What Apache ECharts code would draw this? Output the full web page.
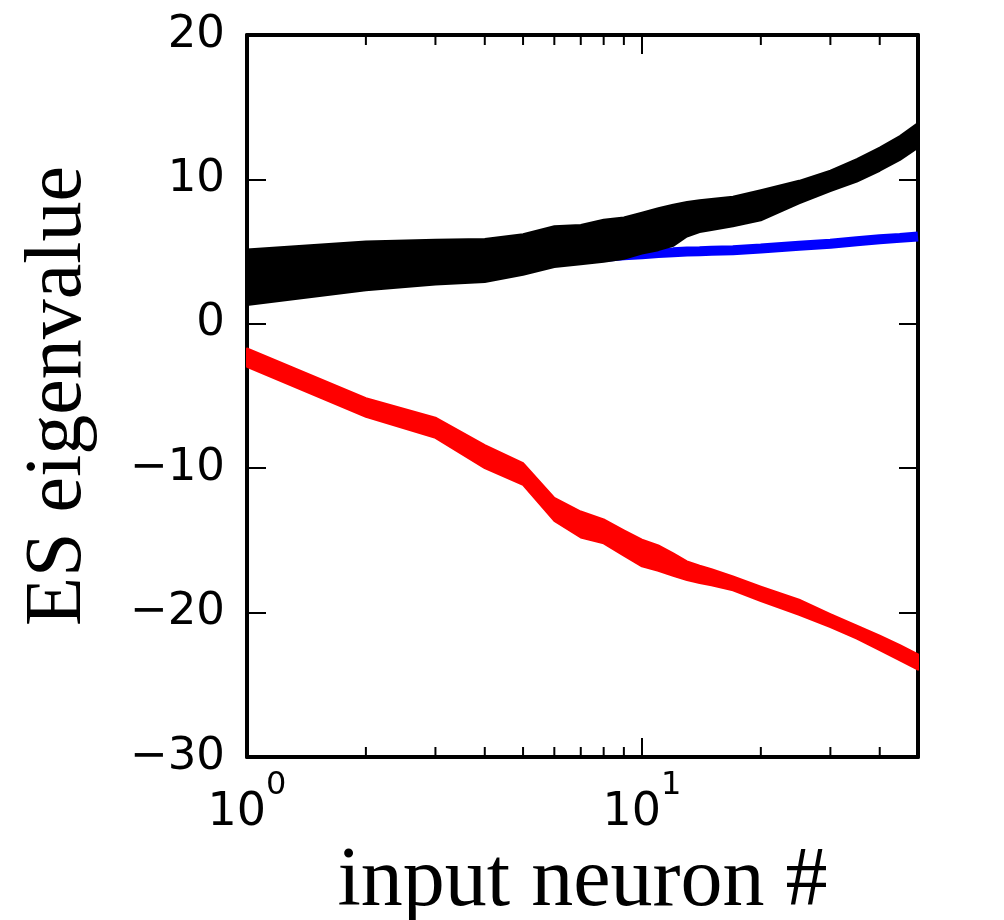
<!DOCTYPE html>
<html>
<head>
<meta charset="utf-8">
<script src="https://cdn.jsdelivr.net/npm/echarts@6/dist/echarts.min.js"></script>
<style>
  html, body { margin: 0; padding: 0; background: #fff; }
  #chart { width: 1004px; height: 920px; }
</style>
</head>
<body>
<div id="chart"></div>
<script>
// input neuron index (x, log axis)
const neurons = [1, 2, 3, 4, 5, 6, 7, 8, 9, 10, 11, 12, 13, 14, 15, 17, 20, 25, 30, 35, 40, 45, 50];
// black trials: upper and lower edge of the band
const blackTop = [5.15, 5.7, 5.82, 5.88, 6.2, 6.75, 6.85, 7.2, 7.36, 7.7, 8.0, 8.25, 8.44, 8.55, 8.65, 8.8, 9.25, 9.9, 10.6, 11.4, 12.2, 13.0, 13.9];
const blackBottom = [1.3, 2.33, 2.72, 2.9, 3.4, 3.94, 4.12, 4.3, 4.5, 4.86, 5.1, 5.4, 6.05, 6.35, 6.5, 6.75, 7.17, 8.35, 9.2, 9.85, 10.6, 11.35, 12.2];
// blue line
const blueLine = [3.2, 3.6, 3.9, 4.1, 4.25, 4.4, 4.52, 4.63, 4.75, 4.82, 4.9, 4.95, 5.0, 5.03, 5.06, 5.1, 5.21, 5.4, 5.55, 5.72, 5.85, 5.95, 6.05];
// red trials: upper and lower edge of the band
const redTop = [-1.71, -5.15, -6.5, -8.4, -9.65, -12.05, -13.0, -13.55, -14.3, -14.95, -15.35, -15.9, -16.45, -16.75, -17.0, -17.5, -18.2, -19.1, -20.1, -20.9, -21.6, -22.25, -22.9];
const redBottom = [-2.98, -6.44, -7.9, -10.0, -11.15, -13.65, -14.8, -15.2, -16.05, -16.8, -17.1, -17.45, -17.75, -17.95, -18.1, -18.45, -19.2, -20.15, -21.0, -21.8, -22.6, -23.3, -23.95];
// minor ticks of the log axis
const xMinorTicks = [2, 3, 4, 5, 6, 7, 8, 9, 20, 30, 40];

const yMin = -30, yMax = 20;

let chart = echarts.init(document.getElementById("chart"));

const axisLine = { onZero: false, lineStyle: { color: "#000", width: 4 } };
const axisTick = { inside: true, length: 19, lineStyle: { color: "#000", width: 2 } };

function logLabel(v) {
  const e = Math.log10(v);
  if (Math.abs(e - Math.round(e)) > 1e-6) return "";
  return "{b|10}{s|" + Math.round(e) + "}";
}

// filled band between two edges, one polygon through the axis scales
function bandSeries(name, top, bottom, color, z) {
  return {
    name: name,
    type: "custom",
    silent: true,
    data: neurons.map((x, i) => [x, top[i], bottom[i]]),
    encode: { x: 0, y: [1, 2] },
    renderItem: function (params, api) {
      if (params.dataIndex !== 0) return;
      const upper = neurons.map((x, i) => api.coord([x, top[i]]));
      const lower = neurons.map((x, i) => api.coord([x, bottom[i]])).reverse();
      return {
        type: "polygon",
        shape: { points: upper.concat(lower) },
        style: { fill: color, stroke: color, lineWidth: 2, lineJoin: "round" }
      };
    },
    z: z
  };
}

const option = {
  animation: false,
  backgroundColor: "#fff",
  grid: { left: 247, right: 86, top: 35, bottom: 163, outerBoundsMode: "none", containLabel: false },
  xAxis: [
    {
      type: "log",
      logBase: 10,
      min: 1,
      max: 50,
      position: "bottom",
      axisLine: axisLine,
      axisTick: axisTick,
      splitLine: { show: false },
      axisLabel: {
        margin: 13,
        formatter: logLabel,
        rich: {
          b: { fontFamily: "DejaVu Sans", fontSize: 46, lineHeight: 66, verticalAlign: "bottom", color: "#000" },
          s: { fontFamily: "DejaVu Sans", fontSize: 32, verticalAlign: "top", color: "#000" }
        }
      },
      name: "input neuron #",
      nameLocation: "middle",
      nameGap: 82,
      nameTextStyle: { fontFamily: "Liberation Serif", fontSize: 84, color: "#000" }
    },
    {
      type: "log",
      logBase: 10,
      min: 1,
      max: 50,
      position: "top",
      axisLine: axisLine,
      axisTick: axisTick,
      splitLine: { show: false },
      axisLabel: { show: false }
    }
  ],
  yAxis: [
    {
      type: "value",
      min: yMin,
      max: yMax,
      interval: 10,
      position: "left",
      axisLine: axisLine,
      axisTick: axisTick,
      splitLine: { show: false },
      axisLabel: {
        margin: 22,
        fontFamily: "DejaVu Sans",
        fontSize: 45,
        color: "#000",
        formatter: (v) => String(v).replace("-", "\u2212")
      },
      name: "ES eigenvalue",
      nameLocation: "middle",
      nameGap: 148,
      nameRotate: 90,
      nameTextStyle: { fontFamily: "Liberation Serif", fontSize: 80, color: "#000" }
    },
    {
      type: "value",
      min: yMin,
      max: yMax,
      interval: 10,
      position: "right",
      axisLine: axisLine,
      axisTick: axisTick,
      splitLine: { show: false },
      axisLabel: { show: false }
    }
  ],
  series: [
    bandSeries("red", redTop, redBottom, "#ff0000", 2),
    {
      name: "blue",
      type: "line",
      data: neurons.map((x, i) => [x, blueLine[i]]),
      showSymbol: false,
      lineStyle: { color: "#0000ff", width: 10 },
      z: 3
    },
    bandSeries("black", blackTop, blackBottom, "#000000", 4),
    {
      // short minor ticks, bottom and top edges
      name: "minorTicks",
      type: "custom",
      silent: true,
      clip: false,
      data: xMinorTicks.map((v) => [v, 0]),
      encode: { x: 0, y: 1 },
      renderItem: function (params, api) {
        const v = api.value(0);
        const b = api.coord([v, yMin]);
        const t = api.coord([v, yMax]);
        const st = { stroke: "#000", lineWidth: 2 };
        return {
          type: "group",
          children: [
            { type: "line", shape: { x1: b[0], y1: b[1], x2: b[0], y2: b[1] - 10 }, style: st },
            { type: "line", shape: { x1: t[0], y1: t[1], x2: t[0], y2: t[1] + 10 }, style: st }
          ]
        };
      },
      z: 10
    }
  ]
};

chart.setOption(option);

window.addEventListener("resize", function () {
  chart.resize();
});
</script>
</body>
</html>
